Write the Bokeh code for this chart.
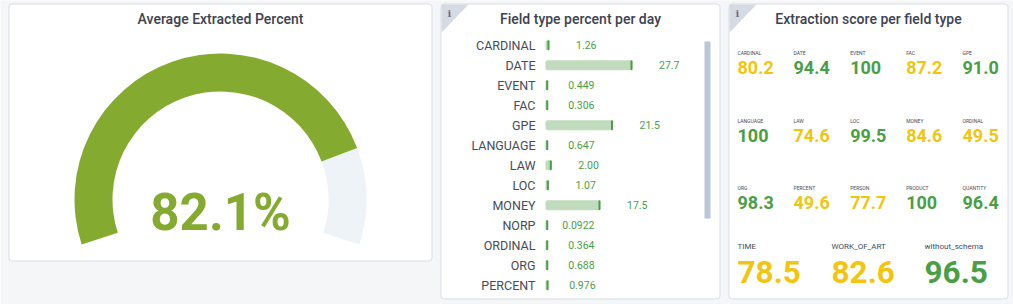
from bokeh.plotting import figure
from bokeh.models import Range1d
from bokeh.embed import file_html
from bokeh.resources import INLINE
from bokeh.core.properties import value
import math

# ---------- data ----------
gauge_value = 82.1
gauge_label = "82.1%"

bar_names = ["CARDINAL", "DATE", "EVENT", "FAC", "GPE", "LANGUAGE", "LAW", "LOC", "MONEY",
             "NORP", "ORDINAL", "ORG", "PERCENT"]
bar_values = [1.26, 27.7, 0.449, 0.306, 21.5, 0.647, 2.00, 1.07, 17.5, 0.0922, 0.364, 0.688, 0.976]
bar_labels = ["1.26", "27.7", "0.449", "0.306", "21.5", "0.647", "2.00", "1.07", "17.5",
              "0.0922", "0.364", "0.688", "0.976"]

score_names = ["CARDINAL", "DATE", "EVENT", "FAC", "GPE",
               "LANGUAGE", "LAW", "LOC", "MONEY", "ORDINAL",
               "ORG", "PERCENT", "PERSON", "PRODUCT", "QUANTITY"]
score_values = [80.2, 94.4, 100, 87.2, 91.0,
                100, 74.6, 99.5, 84.6, 49.5,
                98.3, 49.6, 77.7, 100, 96.4]
score_labels = ["80.2", "94.4", "100", "87.2", "91.0",
                "100", "74.6", "99.5", "84.6", "49.5",
                "98.3", "49.6", "77.7", "100", "96.4"]
big_names = ["TIME", "WORK_OF_ART", "without_schema"]
big_values = [78.5, 82.6, 96.5]
big_labels = ["78.5", "82.6", "96.5"]

# ---------- style ----------
W, H = 1013, 304
BG = "#f5f6f8"
BORDER = "#d9dde5"
TITLE = "#3d4352"
TEXT = "#464c59"
GREEN = "#4a9f45"
YELLOW = "#f2c511"
LIME = "#84ab30"
FONT = value("Roboto")
MED = value("Roboto Medium")


def Y(px):
    return H - px


p = figure(width=W, height=H, x_range=Range1d(0, W), y_range=Range1d(0, H),
           output_backend="svg", toolbar_location=None, min_border=0,
           background_fill_color=BG, border_fill_color=BG, outline_line_color=None)
p.axis.visible = False
p.grid.visible = False
p.styles = {"position": "absolute", "left": "0px", "top": "0px"}

# scales: bars are drawn in value units / row units
PX_PER_UNIT = 3.14
BAR_X0 = 545
ROW_Y0, ROW_H = 44.7, 20.0
p.extra_x_ranges["bars"] = Range1d(-BAR_X0 / PX_PER_UNIT, (W - BAR_X0) / PX_PER_UNIT)
p.extra_y_ranges["rows"] = Range1d((H - ROW_Y0) / ROW_H, -ROW_Y0 / ROW_H)

# ---------- cards ----------
cards = [(8.5, 431.5, 3.5, 260.5), (440.5, 719.5, 3.5, 298.5), (728.5, 1007.5, 3.5, 298.5)]
p.quad(left=[c[0] for c in cards], right=[c[1] for c in cards],
       top=[Y(c[2]) for c in cards], bottom=[Y(c[3]) for c in cards],
       fill_color="#ffffff", line_color=BORDER, line_width=1, border_radius=3)

# info corners
for x0, col_ in ((441, "#d5dae3"), (729, "#d5dae3")):
    p.patch([x0, x0 + 27, x0], [Y(4), Y(4), Y(32)], fill_color=col_, line_color=None)
    p.text([x0 + 8], [Y(13)], text=["i"], text_font=value("DejaVu Serif"), text_font_style="bold",
           text_font_size="10px", text_align="center", text_baseline="middle", text_color="#6e7686")

# titles
for cx, t in ((220, "Average Extracted Percent"), (580, "Field type percent per day"),
              (868, "Extraction score per field type")):
    p.text([cx], [Y(18)], text=[t], text_font=MED, text_font_size="14px",
           text_align="center", text_baseline="middle", text_color=TITLE)

# ---------- gauge ----------
CX, CY, R_OUT, R_IN = 220, 199, 146, 108
A_START, A_SPAN = 198, 216
a_val = A_START - A_SPAN * gauge_value / 100
p.annular_wedge([CX], [Y(CY)], inner_radius=R_IN, outer_radius=R_OUT,
                start_angle=math.radians(A_START - A_SPAN), end_angle=math.radians(a_val),
                fill_color="#eef3f8", line_color=None)
p.annular_wedge([CX], [Y(CY)], inner_radius=R_IN, outer_radius=R_OUT,
                start_angle=math.radians(a_val), end_angle=math.radians(A_START),
                fill_color=LIME, line_color=None)
p.text([CX], [Y(212)], text=[gauge_label], text_font=FONT, text_font_style="bold", text_font_size="51px",
       text_align="center", text_baseline="middle", text_color=LIME)

# ---------- bars ----------
rows = list(range(len(bar_values)))
MIN_W = 2.7 / PX_PER_UNIT
LAB_MIN = 2.0 / PX_PER_UNIT
CAP = 2.0 / PX_PER_UNIT
bar_end = [max(v, MIN_W) for v in bar_values]
lab_end = [max(v, LAB_MIN) for v in bar_values]
p.hbar(y=rows, left=[0] * len(rows), right=bar_end, height=0.5, fill_color="#c1dcbc", line_color=None,
       border_radius=2, x_range_name="bars", y_range_name="rows")
p.hbar(y=rows, left=[e - CAP for e in bar_end], right=bar_end, height=0.5, fill_color=GREEN, line_color=None,
       border_radius=1, x_range_name="bars", y_range_name="rows")
p.text(x=[0] * len(rows), y=rows, text=bar_names, x_offset=-10, text_font=FONT, text_font_size="12.5px",
       text_align="right", text_baseline="middle", text_color=TEXT, x_range_name="bars", y_range_name="rows")
p.text(x=lab_end, y=rows, text=bar_labels, x_offset=47, text_font=FONT, text_font_size="10.5px",
       text_align="right", text_baseline="middle", text_color=GREEN, x_range_name="bars", y_range_name="rows")
# scrollbar
p.quad(left=[704], right=[710], top=[Y(41)], bottom=[Y(218)], fill_color="#bcc7d6", line_color=None)


# ---------- score tiles ----------
def col(v):
    return GREEN if v >= 90 else YELLOW


xs_small = [737, 793, 849.7, 905.7, 962]
ys_lab = [52, 120, 187]
ys_val = [66.7, 134.7, 202]
sx = [xs_small[i % 5] for i in range(15)]
p.text(x=sx, y=[Y(ys_lab[i // 5]) for i in range(15)], text=score_names, text_font=FONT, text_font_size="5px",
       text_align="left", text_baseline="middle", text_color=TEXT)
p.text(x=sx, y=[Y(ys_val[i // 5]) for i in range(15)], text=score_labels, text_font=FONT, text_font_style="bold",
       text_font_size="18px", text_align="left", text_baseline="middle", text_color=[col(v) for v in score_values])
xs_big = [737, 831, 924]
p.text(x=xs_big, y=[Y(246)] * 3, text=big_names, text_font=FONT, text_font_size="8px",
       text_align="left", text_baseline="middle", text_color=TEXT)
p.text(x=xs_big, y=[Y(271.7)] * 3, text=big_labels, text_font=FONT, text_font_style="bold", text_font_size="31.5px",
       text_align="left", text_baseline="middle", text_color=[col(v) for v in big_values])

open("out.html", "w").write(file_html(p, INLINE))
